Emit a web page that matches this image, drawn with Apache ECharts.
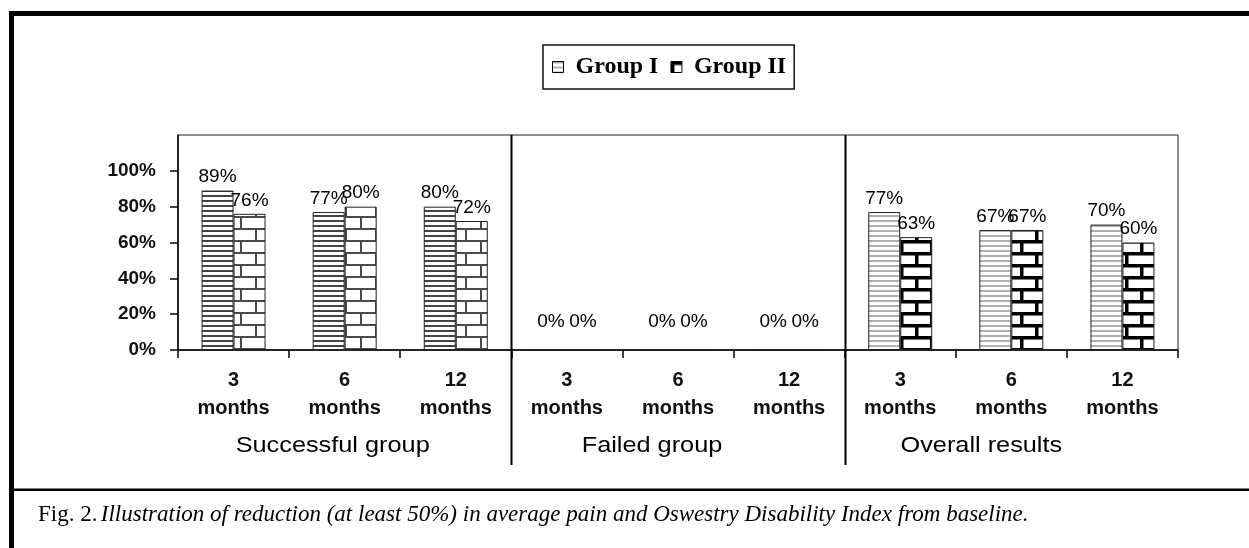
<!DOCTYPE html>
<html><head><meta charset="utf-8">
<script src="https://cdn.jsdelivr.net/npm/echarts@6/dist/echarts.min.js"></script>
<style>html,body{margin:0;padding:0;background:#fff;overflow:hidden}#c{width:1249px;height:548px}</style>
</head><body><div id="c"></div>
<script>
// ---- data ----
const categories = ['3\nmonths','6\nmonths','12\nmonths','3\nmonths','6\nmonths','12\nmonths','3\nmonths','6\nmonths','12\nmonths'];
const groups = ['Successful group','Failed group','Overall results'];
const groupSize = 3;
const seriesNames = ['Group I','Group II'];
const groupI = [0.89,0.77,0.80,0,0,0,0.77,0.67,0.70];
const groupII = [0.76,0.80,0.72,0,0,0,0.63,0.67,0.60];
const yTicks = [0,0.2,0.4,0.6,0.8,1.0];
const captionLead = 'Fig. 2.';
const captionText = 'Illustration of reduction (at least 50%) in average pain and Oswestry Disability Index from baseline.';

// ---- patterns ----
function stripes(period, dark, color) {
  const c = document.createElement('canvas'); c.width = 8; c.height = period;
  const g = c.getContext('2d'); g.fillStyle = '#fff'; g.fillRect(0,0,8,period);
  g.fillStyle = color; g.fillRect(0,0,8,dark); return c;
}
function bricks(w, h, t, color) {
  const c = document.createElement('canvas'); c.width = w; c.height = 2*h;
  const g = c.getContext('2d'); g.fillStyle = '#fff'; g.fillRect(0,0,w,2*h);
  g.fillStyle = color;
  g.fillRect(0,0,w,t); g.fillRect(0,h,w,t);
  g.fillRect(0,0,t,h); g.fillRect(w/2,h,t,h);
  return c;
}
const pat = (cv) => ({image: cv, repeat: 'repeat'});
const stripeDark = pat(stripes(5, 2, '#444'));
const stripeLight = pat(stripes(5, 2, '#b0b0b0'));
const brickGray = pat(bricks(30, 12, 2, '#4a4a4a'));
const brickBlack = pat(bricks(30, 12, 3.5, '#000'));
const patternsI = [stripeDark, stripeDark, stripeLight];
const patternsII = [brickGray, brickGray, brickBlack];

function items(vals, pats) {
  return vals.map((v, i) => {
    const it = {value: v, itemStyle: {color: pats[Math.floor(i / groupSize)]}};
    if (v === 0) it.label = {offset: [0, -14]};
    return it;
  });
}

const sans = '"Liberation Sans", Arial, sans-serif';
const serif = '"Liberation Serif", "Times New Roman", serif';

const chart = echarts.init(document.getElementById('c'), null, {renderer: 'canvas'});
const barLabel = {show: true, position: 'top', distance: 4, color: '#000', fontFamily: sans, fontSize: 19,
  formatter: p => Math.round(p.value * 100) + '%'};

chart.setOption({
  animation: false,
  backgroundColor: '#fff',
  legend: {
    data: [
      {name: seriesNames[0], itemStyle: {color: stripeLight, borderColor: '#000', borderWidth: 1},
        textStyle: {width: 92}},
      {name: seriesNames[1], itemStyle: {color: brickBlack, borderColor: '#000', borderWidth: 1},
        textStyle: {width: 103}}
    ],
    left: 543, top: 45, padding: [10, 8, 10, 9],
    borderColor: '#111', borderWidth: 1.5,
    itemWidth: 11, itemHeight: 11, itemGap: 12,
    icon: 'rect',
    textStyle: {fontFamily: serif, fontWeight: 'bold', fontSize: 24, color: '#000', padding: [2, 0, 0, 7]}
  },
  grid: {left: 178, right: 71, top: 135, bottom: 198, show: true, borderColor: '#222', borderWidth: 1, backgroundColor: 'transparent'},
  xAxis: {
    type: 'category', data: categories,
    axisLine: {lineStyle: {color: '#000', width: 1.5}},
    axisTick: {show: true, length: 8, lineStyle: {color: '#000', width: 1.5}},
    axisLabel: {interval: 0, margin: 16, color: '#111', fontFamily: sans, fontWeight: 'bold', fontSize: 20, lineHeight: 28}
  },
  yAxis: {
    type: 'value', min: 0, max: 1.2, interval: 0.2,
    splitLine: {show: false},
    axisLine: {show: true, lineStyle: {color: '#000', width: 1.5}},
    axisTick: {show: true, length: 8, customValues: yTicks, lineStyle: {color: '#000', width: 1.5}},
    axisLabel: {customValues: yTicks, margin: 22, color: '#111', fontFamily: sans, fontWeight: 'bold', fontSize: 19,
      formatter: v => Math.round(v * 100) + '%'}
  },
  series: [
    {name: seriesNames[0], type: 'bar', data: items(groupI, patternsI), barWidth: 32, barGap: '0%',
      itemStyle: {color: stripeDark, borderColor: '#222', borderWidth: 1}, label: barLabel},
    {name: seriesNames[1], type: 'bar', data: items(groupII, patternsII), barWidth: 32, barGap: '0%',
      itemStyle: {color: brickGray, borderColor: '#222', borderWidth: 1}, label: barLabel}
  ]
});

// ---- decorations placed from the axes ----
const xc = i => chart.convertToPixel({xAxisIndex: 0}, i);
const band = xc(1) - xc(0);
const yTop = chart.convertToPixel({yAxisIndex: 0}, 1.2);
const labelShift = [-12, -26, -30];
const g = [
  {type: 'rect', shape: {x: 9, y: 11, width: 1240, height: 5}, style: {fill: '#000'}},
  {type: 'rect', shape: {x: 9, y: 11, width: 5, height: 537}, style: {fill: '#000'}},
  {type: 'rect', shape: {x: 9, y: 488.5, width: 1240, height: 2.5}, style: {fill: '#000'}},
  {type: 'text', x: 38, y: 515, style: {
    text: '{r|' + captionLead + '} {i|' + captionText + '}',
    verticalAlign: 'middle',
    rich: {
      r: {fontFamily: serif, fontSize: 23, fill: '#000'},
      i: {fontFamily: serif, fontSize: 23, fontStyle: 'italic', fill: '#000'}
    }}}
];
for (let k = 1; k < groups.length; k++) {
  const x = Math.round(xc(k * groupSize) - band / 2) + 0.5;
  g.push({type: 'line', shape: {x1: x, y1: yTop, x2: x, y2: 465}, style: {stroke: '#000', lineWidth: 2}});
}
groups.forEach((name, k) => {
  const cx = (xc(k * groupSize) + xc(k * groupSize + groupSize - 1)) / 2 + labelShift[k];
  g.push({type: 'text', x: cx, y: 446, scaleX: 1.15, style: {text: name, fontFamily: sans, fontSize: 22, fill: '#000', align: 'center', verticalAlign: 'middle'}});
});
chart.setOption({graphic: g});
</script></body></html>
